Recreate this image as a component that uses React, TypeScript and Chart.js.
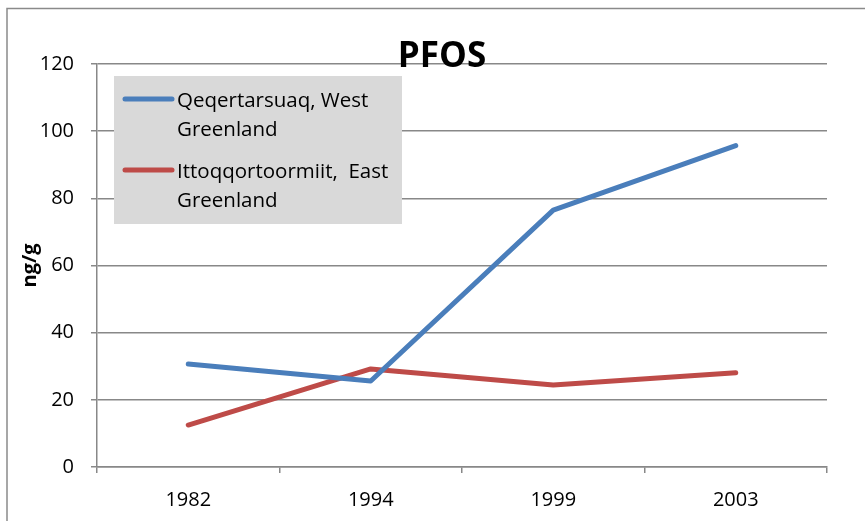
import React, { useEffect, useRef } from "react";
import { Chart, registerables } from "chart.js";

Chart.register(...registerables);

const categories = ["1982", "1994", "1999", "2003"];
const westValues = [30.7, 25.6, 76.5, 95.7];
const eastValues = [12.5, 29.2, 24.4, 28.1];
const westLabel = ["Qeqertarsuaq, West", "Greenland"];
const eastLabel = ["Ittoqqortoormiit,  East", "Greenland"];
const yTicks = [0, 20, 40, 60, 80, 100, 120];
const titleText = "PFOS";
const yAxisTitle = "ng/g";

const FONT = "'Open Sans', 'Liberation Sans', sans-serif";
const GRID = "#888888";

const framePlugin = {
  id: "frame",
  beforeDraw(chart: any) {
    const ctx = chart.ctx;
    ctx.save();
    ctx.fillStyle = "#ffffff";
    ctx.fillRect(0, 0, chart.width, chart.height);
    ctx.strokeStyle = "#8a8a8a";
    ctx.lineWidth = 1.5;
    ctx.strokeRect(7, 8.5, chart.width + 20, chart.height + 20);
    ctx.restore();
  },
};

const legendTitlePlugin = {
  id: "legendTitle",
  afterDraw(chart: any) {
    const ctx = chart.ctx;
    ctx.save();
    // legend box
    const bx = 114, by = 76, bw = 288, bh = 148;
    ctx.fillStyle = "#d9d9d9";
    ctx.fillRect(bx, by, bw, bh);
    ctx.font = `20.5px ${FONT}`;
    ctx.textBaseline = "alphabetic";
    ctx.textAlign = "left";
    chart.data.datasets.forEach((ds: any, i: number) => {
      const top = by + 23 + i * 71;
      ctx.strokeStyle = ds.borderColor;
      ctx.lineWidth = 5;
      ctx.lineCap = "round";
      ctx.beginPath();
      ctx.moveTo(125, top);
      ctx.lineTo(172, top);
      ctx.stroke();
      ctx.fillStyle = "#000000";
      const lines = Array.isArray(ds.label) ? ds.label : [ds.label];
      lines.forEach((ln: string, j: number) => {
        ctx.fillText(ln, 177, top + 8 + j * 28.5);
      });
    });
    // title
    ctx.font = `bold 35px ${FONT}`;
    ctx.textAlign = "center";
    ctx.fillStyle = "#000000";
    ctx.fillText(titleText, 442, 67);
    ctx.restore();
  },
};

export default function App() {
  const ref = useRef<HTMLCanvasElement | null>(null);
  useEffect(() => {
    if (!ref.current) return;
    const chart = new Chart(ref.current, {
      type: "line",
      data: {
        labels: categories,
        datasets: [
          {
            label: westLabel as any,
            data: westValues,
            borderColor: "#4a7ebb",
            backgroundColor: "#4a7ebb",
            borderWidth: 5,
            pointRadius: 0,
            tension: 0,
            borderCapStyle: "round",
            borderJoinStyle: "round",
          },
          {
            label: eastLabel as any,
            data: eastValues,
            borderColor: "#be4b48",
            backgroundColor: "#be4b48",
            borderWidth: 5,
            pointRadius: 0,
            tension: 0,
            borderCapStyle: "round",
            borderJoinStyle: "round",
          },
        ],
      },
      options: {
        animation: false,
        responsive: false,
        layout: { padding: { top: 64, right: 38, left: 0, bottom: 0 } },
        plugins: {
          legend: { display: false },
          title: { display: false },
          tooltip: { enabled: false },
        },
        scales: {
          x: {
            type: "category",
            offset: true,
            grid: {
              offset: true,
              drawOnChartArea: false,
              drawTicks: true,
              tickLength: 6,
              color: GRID,
              lineWidth: 1.5,
            },
            border: { display: true, color: GRID, width: 1.5 },
            ticks: {
              font: { family: FONT, size: 20 },
              color: "#000000",
              padding: 15,
              maxRotation: 0,
            },
            afterFit(scale: any) {
              scale.height = 54;
            },
          },
          y: {
            min: 0,
            max: 120,
            afterBuildTicks(scale: any) {
              scale.ticks = yTicks.map((v) => ({ value: v }));
            },
            grid: {
              color: GRID,
              lineWidth: 1.5,
              drawTicks: true,
              tickLength: 6,
            },
            border: { display: true, color: GRID, width: 1.5 },
            ticks: {
              font: { family: FONT, size: 20 },
              color: "#000000",
              padding: 17,
            },
            title: {
              display: true,
              text: yAxisTitle,
              font: { family: FONT, size: 20, weight: "bold" },
              color: "#000000",
              padding: { top: 18, bottom: 0 },
            },
            afterFit(scale: any) {
              scale.width = 97;
            },
          },
        },
      },
      plugins: [framePlugin, legendTitlePlugin],
    });
    return () => chart.destroy();
  }, []);
  return (
    <canvas
      ref={ref}
      width={865}
      height={521}
      style={{ position: "absolute", left: 0, top: 0, width: 865, height: 521 }}
    />
  );
}
